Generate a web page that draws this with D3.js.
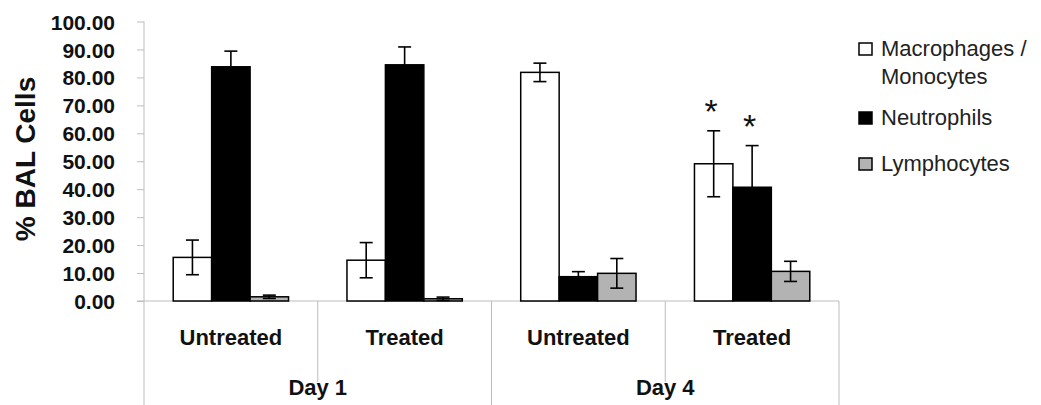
<!DOCTYPE html>
<html>
<head>
<meta charset="utf-8">
<script src="https://cdn.jsdelivr.net/npm/d3@7/dist/d3.min.js"></script>
<style>
  html, body { margin: 0; padding: 0; background: #fff; }
  svg { display: block; font-family: "Liberation Sans", Arial, sans-serif; }
</style>
</head>
<body>
<svg id="chart" width="1041" height="405"></svg>
<script>
// Treatment groups and the day they belong to
const groups = ["Untreated", "Treated", "Untreated", "Treated"];
const days = ["Day 1", "Day 4"];
const daySpan = [[0, 1], [2, 3]];

// Cell populations (series)
const series = ["Macrophages / Monocytes", "Neutrophils", "Lymphocytes"];
const legendLines = [["Macrophages /", "Monocytes"], ["Neutrophils"], ["Lymphocytes"]];
const fills = ["#ffffff", "#000000", "#b3b3b3"];

// Mean % of BAL cells per group
const macrophages = [15.6, 14.6, 81.8, 49.1];
const neutrophils = [83.8, 84.5, 8.7, 40.7];
const lymphocytes = [1.5, 0.8, 9.9, 10.6];

// Error bar half-widths
const macrophagesErr = [6.2, 6.3, 3.3, 11.8];
const neutrophilsErr = [5.6, 6.4, 1.8, 14.9];
const lymphocytesErr = [0.6, 0.6, 5.3, 3.6];

// Significance markers (group index, series index)
const starred = [[3, 0], [3, 1]];

// Y axis ticks
const yTicks = [0, 10, 20, 30, 40, 50, 60, 70, 80, 90, 100];

const values = [macrophages, neutrophils, lymphocytes];
const errors = [macrophagesErr, neutrophilsErr, lymphocytesErr];

const svg = d3.select("#chart");
const axisColor = "#bdbdbd";
const plotLeft = 144, plotRight = 839, plotTop = 21.5, plotBottom = 301, svgH = 405;

const x0 = d3.scaleBand().domain(d3.range(groups.length)).range([plotLeft, plotRight]).padding(0);
const x1 = d3.scaleBand().domain(d3.range(series.length)).range([0, x0.bandwidth()])
  .paddingInner(0).paddingOuter(0.76);
const y = d3.scaleLinear().domain([0, 100]).range([plotBottom, plotTop]);

// Y axis
const yAxis = svg.append("g").attr("transform", `translate(${plotLeft},0)`)
  .call(d3.axisLeft(y).tickValues(yTicks).tickFormat(d3.format(".2f")).tickSize(7).tickPadding(22));
yAxis.select(".domain").remove();
yAxis.selectAll(".tick line").attr("stroke", axisColor).attr("stroke-width", 1);
yAxis.selectAll(".tick text")
  .attr("fill", "#111").attr("font-size", 21).attr("font-weight", "bold")
  .attr("font-family", "'Liberation Sans', Arial, sans-serif")
  .attr("dy", "0.36em");

// Axis lines and category separators
svg.append("line").attr("x1", plotLeft).attr("x2", plotLeft).attr("y1", plotTop).attr("y2", svgH)
  .attr("stroke", axisColor);
svg.append("line").attr("x1", plotLeft - 7).attr("x2", plotRight).attr("y1", y(0)).attr("y2", y(0))
  .attr("stroke", axisColor);
// separators between treatment groups within a day
svg.append("g").selectAll("line").data([1, 3]).join("line")
  .attr("x1", d => x0(d)).attr("x2", d => x0(d))
  .attr("y1", y(0)).attr("y2", 382).attr("stroke", axisColor);
// separators between days
svg.append("g").selectAll("line").data([2]).join("line")
  .attr("x1", d => x0(d)).attr("x2", d => x0(d))
  .attr("y1", y(0)).attr("y2", svgH).attr("stroke", axisColor);
svg.append("line").attr("x1", plotRight).attr("x2", plotRight).attr("y1", y(0)).attr("y2", svgH)
  .attr("stroke", axisColor);

// Bars
const barData = [];
groups.forEach((g, gi) => series.forEach((s, si) => {
  barData.push({ gi, si, v: values[si][gi], e: errors[si][gi] });
}));

svg.append("g").selectAll("rect").data(barData).join("rect")
  .attr("x", d => x0(d.gi) + x1(d.si))
  .attr("y", d => y(d.v))
  .attr("width", x1.bandwidth())
  .attr("height", d => y(0) - y(d.v))
  .attr("fill", d => fills[d.si])
  .attr("stroke", "#000")
  .attr("stroke-width", 1.5);

// Error bars
const capW = 6.5;
const eb = svg.append("g").attr("stroke", "#000").attr("stroke-width", 1.6);
barData.forEach(d => {
  const cx = x0(d.gi) + x1(d.si) + x1.bandwidth() / 2;
  const hi = y(d.v + d.e), lo = y(Math.max(0, d.v - d.e));
  eb.append("line").attr("x1", cx).attr("x2", cx).attr("y1", hi).attr("y2", lo);
  eb.append("line").attr("x1", cx - capW).attr("x2", cx + capW).attr("y1", hi).attr("y2", hi);
  eb.append("line").attr("x1", cx - capW).attr("x2", cx + capW).attr("y1", lo).attr("y2", lo);
});

// Significance asterisks
svg.append("g").selectAll("text").data(starred).join("text")
  .attr("x", d => x0(d[0]) + x1(d[1]) + x1.bandwidth() / 2 - 2.5)
  .attr("y", d => y(values[d[1]][d[0]] + errors[d[1]][d[0]]) - 8)
  .attr("text-anchor", "middle")
  .attr("font-size", 34)
  .attr("fill", "#111")
  .text("*");

// Group labels
const xAxis = svg.append("g").attr("transform", `translate(0,${y(0)})`)
  .call(d3.axisBottom(x0).tickSize(0).tickFormat(i => groups[i]));
xAxis.select(".domain").remove();
xAxis.selectAll(".tick text")
  .attr("y", 0).attr("dy", 44)
  .attr("fill", "#111").attr("font-size", 22).attr("font-weight", "bold")
  .attr("font-family", "'Liberation Sans', Arial, sans-serif");

// Day labels
svg.append("g").selectAll("text").data(days).join("text")
  .attr("x", (d, i) => (x0(daySpan[i][0]) + x0(daySpan[i][1]) + x0.bandwidth()) / 2)
  .attr("y", 395)
  .attr("text-anchor", "middle")
  .attr("font-size", 22).attr("font-weight", "bold").attr("fill", "#111")
  .text(d => d);

// Y axis title
svg.append("text")
  .attr("transform", "translate(35,159) rotate(-90)")
  .attr("text-anchor", "middle")
  .attr("font-size", 28).attr("font-weight", "bold").attr("fill", "#111")
  .text("% BAL Cells");

// Legend
const legendY = [43, 112, 158];
const lg = svg.append("g");
series.forEach((s, i) => {
  lg.append("rect").attr("x", 859).attr("y", legendY[i]).attr("width", 13).attr("height", 12)
    .attr("fill", fills[i]).attr("stroke", "#000").attr("stroke-width", 1.5);
  const t = lg.append("text").attr("x", 881).attr("y", legendY[i] + 12.5)
    .attr("font-size", 22).attr("fill", "#222");
  legendLines[i].forEach((ln, k) => {
    t.append("tspan").attr("x", 881).attr("dy", k === 0 ? 0 : 28.3).text(ln);
  });
});
</script>
</body>
</html>
